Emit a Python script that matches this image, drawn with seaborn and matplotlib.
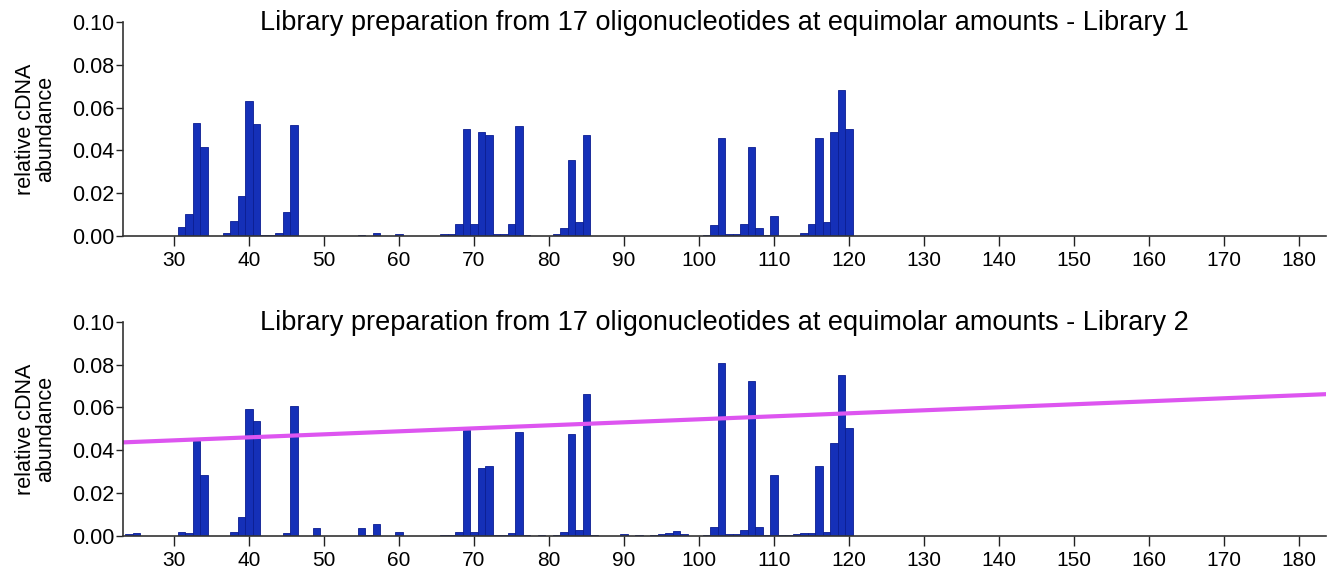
"""Abundancia relativa de cDNA por posicion - dos librerias."""

import matplotlib

matplotlib.use("Agg")
import matplotlib.pyplot as plt
import pandas as pd
import seaborn as sns

# Library 1
lib1_pos = [31, 32, 33, 34,
            37, 38, 39, 40, 41, 42, 43, 44, 45, 46,
            55, 57, 60,
            66, 67, 68, 69, 70, 71, 72, 73, 74, 75, 76, 77,
            81, 82, 83, 84, 85,
            101, 102, 103, 104, 105, 106, 107, 108, 109, 110,
            114, 115, 116, 117, 118, 119, 120]
lib1_val = [0.0044, 0.0103, 0.0528, 0.0414,
            0.0013, 0.0069, 0.0189, 0.0631, 0.0522, 0.0005, 0.0005, 0.0017, 0.0111, 0.0520,
            0.0005, 0.0017, 0.0012,
            0.0008, 0.0012, 0.0055, 0.0502, 0.0055, 0.0486, 0.0472, 0.0010, 0.0010, 0.0055, 0.0513, 0.0005,
            0.0008, 0.0037, 0.0356, 0.0064, 0.0470,
            0.0006, 0.0053, 0.0458, 0.0008, 0.0012, 0.0059, 0.0417, 0.0039, 0.0006, 0.0094,
            0.0017, 0.0056, 0.0458, 0.0067, 0.0484, 0.0681, 0.0502]

# Library 2
lib2_pos = [24, 25, 31, 32, 33, 34, 38, 39, 40, 41, 45, 46, 49,
            55, 56, 57, 60,
            66, 67, 68, 69, 70, 71, 72, 73, 74, 75, 76, 77, 79,
            81, 82, 83, 84, 85, 86,
            90, 92, 94, 95, 96, 97, 98,
            101, 102, 103, 104, 105, 106, 107, 108, 109, 110,
            111, 112, 113, 114, 115, 116, 117, 118, 119, 120]
lib2_val = [0.0008, 0.0012, 0.0019, 0.0016, 0.0444, 0.0286, 0.0019, 0.0091, 0.0591, 0.0536, 0.0016, 0.0609, 0.0036,
            0.0039, 0.0005, 0.0058, 0.0019,
            0.0006, 0.0006, 0.0020, 0.0494, 0.0017, 0.0319, 0.0325, 0.0006, 0.0006, 0.0016, 0.0486, 0.0006, 0.0006,
            0.0006, 0.0017, 0.0478, 0.0027, 0.0661, 0.0006,
            0.0009, 0.0006, 0.0006, 0.0009, 0.0012, 0.0022, 0.0009,
            0.0005, 0.0041, 0.0806, 0.0008, 0.0008, 0.0030, 0.0725, 0.0041, 0.0006, 0.0284,
            0.0006, 0.0006, 0.0009, 0.0012, 0.0014, 0.0325, 0.0020, 0.0436, 0.0753, 0.0506]

# linea de tendencia (libreria 2)
trend_x = [23.2, 183.6]
trend_y = [0.0437, 0.0662]

titles = [
    "Library preparation from 17 oligonucleotides at equimolar amounts - Library 1",
    "Library preparation from 17 oligonucleotides at equimolar amounts - Library 2",
]
x_ticks = list(range(30, 190, 10))
y_ticks = [0.00, 0.02, 0.04, 0.06, 0.08, 0.10]

BAR_COLOR = "#1530b8"
EDGE_COLOR = "#0b1d92"

sns.set_style("ticks")
plt.rcParams["font.family"] = ["Liberation Sans", "DejaVu Sans"]
plt.rcParams["text.color"] = "black"

fig = plt.figure(figsize=(13.34, 5.76), dpi=100)
ax1 = fig.add_axes([0.0922, 0.590, 0.9018, 0.372])
ax2 = fig.add_axes([0.0922, 0.0694, 0.9018, 0.372])

datasets = [(ax1, lib1_pos, lib1_val), (ax2, lib2_pos, lib2_val)]
for i, (ax, pos, val) in enumerate(datasets):
    df = pd.DataFrame({"position": pos, "abundance": val})
    sns.barplot(
        data=df,
        x="position",
        y="abundance",
        native_scale=True,
        width=1.0,
        color=BAR_COLOR,
        edgecolor=EDGE_COLOR,
        linewidth=0.6,
        errorbar=None,
        saturation=1,
        ax=ax,
    )
    ax.set_xlim(23.2, 183.6)
    ax.set_ylim(0, 0.10)
    ax.set_xticks(x_ticks)
    ax.set_xticklabels([str(t) for t in x_ticks], fontsize=15)
    ax.set_yticks(y_ticks)
    ax.set_yticklabels([f"{t:.2f}" for t in y_ticks], fontsize=15.5)
    ax.set_xlabel("")
    ax.set_ylabel("relative cDNA\nabundance", fontsize=15.5, linespacing=0.9, color="black")
    ax.yaxis.set_label_coords(-0.056, 0.5)
    ax.set_title(titles[i], fontsize=19.5, y=0.963, pad=0, color="black")
    ax.tick_params(axis="x", direction="out", length=7, width=1, pad=4,
                   colors="#222222", labelcolor="black")
    ax.tick_params(axis="y", direction="out", length=5, width=1, pad=1,
                   colors="#222222", labelcolor="black")
    for side in ["left", "bottom"]:
        ax.spines[side].set_linewidth(1.2)
        ax.spines[side].set_color("#333333")
    sns.despine(ax=ax)

sns.lineplot(x=trend_x, y=trend_y, color="#dd55f0", linewidth=3, ax=ax2)
ax2.set_xlim(23.2, 183.6)

fig.savefig("out.png", dpi=100)
plt.close(fig)
